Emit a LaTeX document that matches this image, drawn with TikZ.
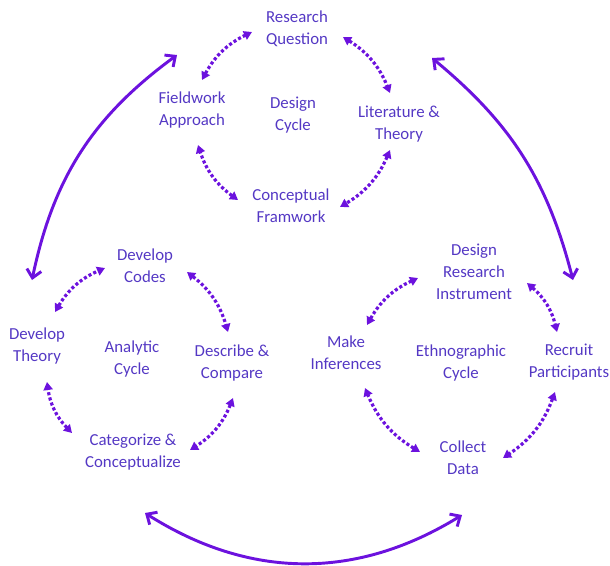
\documentclass[tikz,border=0pt]{standalone}
\usepackage{fontspec}
\setmainfont{Carlito}
\usetikzlibrary{arrows.meta}
\definecolor{txt}{RGB}{84,56,196}
\definecolor{arr}{RGB}{108,18,222}
\begin{document}
\begin{tikzpicture}[x=0.75pt,y=-0.75pt,
  lbl/.style={text=txt, font=\fontsize{12.6}{16.5}\selectfont, align=center, inner sep=0pt},
  dotarr/.style={draw=arr, line width=2.4pt, dash pattern=on 2.3pt off 1.7pt,
    {Triangle[length=6pt,width=6.8pt]}-{Triangle[length=6pt,width=6.8pt]}, bend left=18},
  bigarr/.style={draw=arr, line width=2.2pt,
    {Straight Barb[length=6pt,width=11pt]}-{Straight Barb[length=6pt,width=11pt]}}]
\useasboundingbox (0,0) rectangle (610,565);
% top cycle
\node[lbl] (rq) at (297,29) {Research\\Question};
\node[lbl] (fw) at (192,110) {Fieldwork\\Approach};
\node[lbl] (dcyc) at (293,115) {Design\\Cycle};
\node[lbl] (lt) at (399,124) {Literature \&\\Theory};
\node[lbl] (cf) at (291,206) {Conceptual\\Framwork};
% left cycle
\node[lbl] (dc) at (145,266) {Develop\\Codes};
\node[lbl] (dt) at (37,346) {Develop\\Theory};
\node[lbl] (acyc) at (132,359) {Analytic\\Cycle};
\node[lbl] (dcmp) at (232,363) {Describe \&\\Compare};
\node[lbl] (cc) at (133,452) {Categorize \&\\Conceptualize};
% right cycle
\node[lbl] (dri) at (474,272) {Design\\Research\\Instrument};
\node[lbl] (mi) at (346,353) {Make\\Inferences};
\node[lbl] (ecyc) at (461,363) {Ethnographic\\Cycle};
\node[lbl] (rp) at (569,362) {Recruit\\Participants};
\node[lbl] (cd) at (463,458) {Collect\\Data};
% top cycle arrows
\draw[dotarr] ([shift={(10,-30)}]fw.center) to ([shift={(-45,3)}]rq.center);
\draw[dotarr] ([shift={(46,8)}]rq.center) to ([shift={(-9,-31)}]lt.center);
\draw[dotarr] ([shift={(-9,26)}]lt.center) to ([shift={(49,1)}]cf.center);
\draw[dotarr] ([shift={(-53,-6)}]cf.center) to ([shift={(6,35)}]fw.center);
% left cycle arrows
\draw[dotarr] ([shift={(18,-34)}]dt.center) to ([shift={(-40,2)}]dc.center);
\draw[dotarr] ([shift={(42,6)}]dc.center) to ([shift={(-4,-31)}]dcmp.center);
\draw[dotarr] ([shift={(1,35)}]dcmp.center) to ([shift={(57,-2)}]cc.center);
\draw[dotarr] ([shift={(-61,-19)}]cc.center) to ([shift={(10,36)}]dt.center);
% right cycle arrows
\draw[dotarr] ([shift={(21,-28)}]mi.center) to ([shift={(-56,6)}]dri.center);
\draw[dotarr] ([shift={(53,11)}]dri.center) to ([shift={(-12,-30)}]rp.center);
\draw[dotarr] ([shift={(-14,30)}]rp.center) to ([shift={(40,0)}]cd.center);
\draw[dotarr] ([shift={(-43,-6)}]cd.center) to ([shift={(19,35)}]mi.center);
% big arrows
\draw[bigarr] ([shift={(-15,-55)}]fw.center) to[bend right=21] ([shift={(-5,-66)}]dt.center);
\draw[bigarr] ([shift={(33,-66)}]lt.center) to[bend left=18] ([shift={(4,-82)}]rp.center);
\draw[bigarr] ([shift={(12,61)}]cc.center) to[bend right=32] ([shift={(-1,57)}]cd.center);
\end{tikzpicture}
\end{document}
